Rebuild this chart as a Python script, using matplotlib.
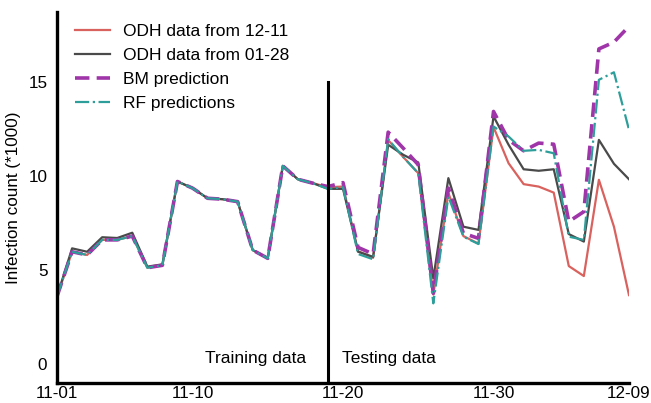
import matplotlib.pyplot as plt
import numpy as np

plt.rcParams["font.family"] = ["Liberation Sans", "DejaVu Sans"]

# daily values, 11-01 .. 12-09, in thousands
odh_1211 = [3.6, 5.97, 5.8, 6.6, 6.6, 6.8, 5.12, 5.25, 9.7, 9.35, 8.81, 8.76, 8.63,
            6.06, 5.62, 10.53, 9.82, 9.61, 9.4, 9.43, 6.0, 5.65, 11.9, 11.0, 10.14,
            3.7, 9.1, 6.8, 6.4, 12.59, 10.67, 9.56, 9.43, 9.11, 5.21, 4.68, 9.79,
            7.3, 3.67]
odh_0128 = [3.6, 6.15, 5.97, 6.74, 6.7, 6.98, 5.18, 5.3, 9.7, 9.35, 8.81, 8.76, 8.63,
            6.06, 5.62, 10.53, 9.82, 9.61, 9.31, 9.31, 5.97, 5.7, 11.65, 11.12, 10.71,
            4.56, 9.88, 7.3, 7.13, 13.16, 11.65, 10.35, 10.27, 10.35, 6.91, 6.51, 11.91,
            10.64, 9.82]
bm_pred = [3.6, 5.97, 5.8, 6.6, 6.6, 6.8, 5.12, 5.25, 9.7, 9.35, 8.81, 8.76, 8.63,
           6.06, 5.62, 10.53, 9.82, 9.61, 9.43, 9.64, 6.2, 5.85, 12.32, 11.47, 10.59,
           3.76, 9.35, 6.95, 6.68, 13.42, 11.91, 11.33, 11.74, 11.68, 7.57, 8.1, 16.74,
           17.1, 17.94]
rf_pred = [3.6, 5.97, 5.8, 6.6, 6.6, 6.8, 5.12, 5.25, 9.7, 9.35, 8.81, 8.76, 8.63,
           6.06, 5.62, 10.53, 9.82, 9.61, 9.31, 9.4, 5.85, 5.57, 11.95, 11.0, 10.14,
           3.23, 8.9, 6.77, 6.38, 12.62, 12.09, 11.33, 11.38, 11.2, 6.77, 6.6, 15.1,
           15.5, 12.45]
tick_days = [0, 9, 19, 29, 38]
tick_labels = ["11-01", "11-10", "11-20", "11-30", "12-09"]
split_day = 18

days = np.arange(len(odh_1211))

fig = plt.figure(figsize=(6.51, 4.03), dpi=100)
ax = fig.add_axes([0.0876, 0.0496, 0.8786, 0.9206])

ax.plot(days, odh_1211, color="#d9625e", lw=1.6, label="ODH data from 12-11")
ax.plot(days, odh_0128, color="#4a4a4a", lw=1.6, label="ODH data from 01-28")
ax.plot(days, bm_pred, color="#a035aa", lw=2.6, ls=(0, (4, 2)), label="BM prediction")
ax.plot(days, rf_pred, color="#2e9e9a", lw=1.6, ls="-.", label="RF predictions")

ax.plot([split_day, split_day], [-1, 15], color="black", lw=2.2)
ax.text(split_day - 1.45, 0.32, "Training data", ha="right", va="center", fontsize=12.5)
ax.text(split_day + 0.95, 0.32, "Testing data", ha="left", va="center", fontsize=12.5)

ax.set_xlim(0, 38)
ax.set_ylim(-1, 18.7)
ax.set_xticks(tick_days)
ax.set_xticklabels(tick_labels)
ax.set_yticks([0, 5, 10, 15])
ax.tick_params(length=0, labelsize=12.3)
ax.tick_params(axis="x", pad=2)
ax.tick_params(axis="y", pad=7)
ax.set_ylabel("Infection count (*1000)", fontsize=12.3, labelpad=5)

for s in ["top", "right"]:
    ax.spines[s].set_visible(False)
for s in ["left", "bottom"]:
    ax.spines[s].set_linewidth(2.4)

ax.legend(loc="upper left", frameon=False, fontsize=12.5, handlelength=2.0,
          handletextpad=0.75, borderaxespad=0.3, bbox_to_anchor=(0.01, 1.0),
          labelspacing=0.5)

fig.savefig("out.png", dpi=100)
